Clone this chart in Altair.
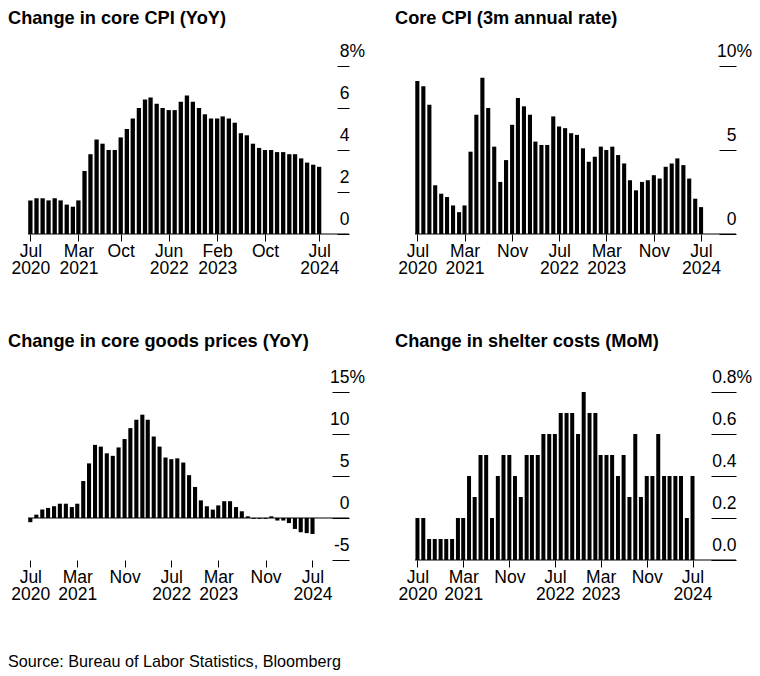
import altair as alt
import pandas as pd

# ---------------- data ----------------
months = [d.strftime("%Y-%m-%d") for d in pd.date_range("2020-07-01", "2024-07-01", freq="MS")]

core_cpi_yoy = [1.6, 1.7, 1.7, 1.6, 1.7, 1.6, 1.4, 1.3, 1.6,
                3.0, 3.8, 4.5, 4.3, 4.0, 4.0, 4.6, 5.0, 5.5,
                6.0, 6.4, 6.5, 6.2, 6.0, 5.9, 5.9, 6.3, 6.6, 6.3, 6.0, 5.7,
                5.5, 5.5, 5.6, 5.5, 5.3, 4.8, 4.7, 4.3, 4.1, 4.0, 4.0, 3.9,
                3.9, 3.8, 3.8, 3.6, 3.4, 3.3, 3.2]

core_cpi_3m = [9.1, 8.8, 7.7, 2.9, 2.4, 2.2, 1.7, 1.3, 1.7,
               4.9, 7.1, 9.3, 7.5, 5.2, 3.1, 4.4, 6.5, 8.1,
               7.6, 7.1, 5.5, 5.3, 5.3, 7.0, 6.4, 6.3, 6.0, 5.9, 5.1, 4.3,
               4.6, 5.2, 5.0, 5.2, 4.7, 4.2, 3.2, 2.6, 3.1, 3.2, 3.5, 3.3,
               4.0, 4.2, 4.5, 4.1, 3.3, 2.1, 1.6]

core_goods_yoy = [-0.5, 0.4, 1.0, 1.2, 1.4, 1.7, 1.7, 1.3, 1.7,
                  4.4, 6.5, 8.7, 8.5, 7.7, 7.4, 8.4, 9.4, 10.7,
                  11.7, 12.3, 11.7, 9.7, 8.5, 7.2, 7.0, 7.1, 6.6, 5.1, 3.7, 2.1,
                  1.4, 1.0, 1.5, 2.0, 2.0, 1.3, 0.8, 0.2, -0.1, -0.1, -0.1, 0.2,
                  -0.3, -0.3, -0.6, -1.3, -1.7, -1.8, -1.9]

shelter_mom = [0.2, 0.2, 0.1, 0.1, 0.1, 0.1, 0.1, 0.2, 0.2,
               0.4, 0.3, 0.5, 0.5, 0.2, 0.4, 0.5, 0.5, 0.4,
               0.3, 0.5, 0.5, 0.5, 0.6, 0.6, 0.6, 0.7, 0.7, 0.7, 0.6, 0.8,
               0.7, 0.7, 0.5, 0.5, 0.5, 0.4, 0.5, 0.3, 0.6, 0.3, 0.4, 0.4,
               0.6, 0.4, 0.4, 0.4, 0.4, 0.2, 0.4]

titles = ["Change in core CPI (YoY)", "Core CPI (3m annual rate)",
          "Change in core goods prices (YoY)", "Change in shelter costs (MoM)"]
source = "Source: Bureau of Labor Statistics, Bloomberg"

y_ticks_1 = [0, 2, 4, 6, 8]
y_labels_1 = ["0", "2", "4", "6", "8%"]
y_ticks_2 = [0, 5, 10]
y_labels_2 = ["0", "5", "10%"]
y_ticks_3 = [-5, 0, 5, 10, 15]
y_labels_3 = ["-5", "0", "5", "10", "15%"]
y_ticks_4 = [0, 0.2, 0.4, 0.6, 0.8]
y_labels_4 = ["0.0", "0.2", "0.4", "0.6", "0.8%"]

x_ticks_1 = ["2020-07-01", "2021-03-01", "2021-10-01", "2022-06-01", "2023-02-01", "2023-10-01", "2024-07-01"]
x_labels_1 = [["Jul", "2020"], ["Mar", "2021"], ["Oct"], ["Jun", "2022"], ["Feb", "2023"], ["Oct"], ["Jul", "2024"]]
x_ticks_b = ["2020-07-01", "2021-03-01", "2021-11-01", "2022-07-01", "2023-03-01", "2023-11-01", "2024-07-01"]
x_labels_b = [["Jul", "2020"], ["Mar", "2021"], ["Nov"], ["Jul", "2022"], ["Mar", "2023"], ["Nov"], ["Jul", "2024"]]

x_domains = [["2020-06-19", "2024-11-29"], ["2020-06-19", "2024-12-28"],
             ["2020-06-19", "2025-01-06"], ["2020-06-18", "2025-02-17"]]

FONT = "Liberation Sans"
LABEL_SIZE = 17.5
PCT_W = 0.889 * LABEL_SIZE


def ms(s):
    return int(pd.Timestamp(s).value // 10**6)


def js(lbl):
    if len(lbl) == 1:
        return "'%s'" % lbl[0]
    return "[" + ", ".join("'%s'" % p for p in lbl) + "]"


def x_expr(ticks, labels):
    parts = ["utcFormat(datum.value, '%%Y-%%m-%%d') == '%s' ? %s" % (t, js(l)) for t, l in zip(ticks, labels)]
    return " : ".join(parts) + " : ''"


def y_expr(ticks, labels):
    parts = ["datum.value == %s ? '%s'" % (repr(t), l) for t, l in zip(ticks, labels)]
    return " : ".join(parts) + " : ''"


def panel(values, title, yticks, ylabels, tick_len, xticks, xlabels, xdom, bar_w, title_offset):
    df = pd.DataFrame({"date": months, "value": values})
    top = yticks[-1]
    x = alt.X("date:T",
              scale=alt.Scale(domain=[ms(xdom[0]), ms(xdom[1])], nice=False, padding=0),
              axis=alt.Axis(values=[ms(t) for t in xticks], labelExpr=x_expr(xticks, xlabels),
                            title=None, domain=False, grid=False, ticks=True, tickSize=7,
                            tickColor="black", tickWidth=1, labelPadding=1, labelLineHeight=17,
                            labelBaseline="top", labelAlign="center", labelFlush=False,
                            labelOverlap=False, labelFont=FONT, labelFontSize=LABEL_SIZE,
                            labelColor="black"))
    y_scale = alt.Scale(domain=[yticks[0], yticks[-1]], nice=False)
    y_axis = alt.Axis(orient="right", values=yticks, labelExpr=y_expr(yticks, ylabels),
                      title=None, domain=False, grid=False, offset=-tick_len,
                      tickSize=tick_len, tickColor="black", tickWidth=1,
                      labelAlign="right", labelBaseline="alphabetic", labelOffset=-10,
                      labelPadding={"condition": {"test": "datum.value == %s" % repr(top),
                                                  "value": PCT_W}, "value": 0},
                      labelFlush=False, labelOverlap=False, labelFont=FONT,
                      labelFontSize=LABEL_SIZE, labelColor="black")
    bars = alt.Chart(df).mark_bar(color="black", width=bar_w).encode(
        x=x, y=alt.Y("value:Q", scale=y_scale, axis=y_axis))
    base = alt.Chart(pd.DataFrame({"value": [0]})).mark_rule(color="black", strokeWidth=1).encode(
        y=alt.Y("value:Q", scale=y_scale, axis=y_axis))
    return alt.layer(bars, base).properties(
        width=321, height=168,
        title=alt.TitleParams(title, anchor="start", frame="group", dx=-20, offset=title_offset,
                              font=FONT, fontSize=18.2, fontWeight="bold", color="black"))


p1 = panel(core_cpi_yoy, titles[0], y_ticks_1, y_labels_1, 12, x_ticks_1, x_labels_1, x_domains[0], 4.3, 14)
p2 = panel(core_cpi_3m, titles[1], y_ticks_2, y_labels_2, 17, x_ticks_b, x_labels_b, x_domains[1], 4.1, 14)
p3 = panel(core_goods_yoy, titles[2], y_ticks_3, y_labels_3, 17, x_ticks_b, x_labels_b, x_domains[2], 4.1, 17)
p4 = panel(shelter_mom, titles[3], y_ticks_4, y_labels_4, 25, x_ticks_b, x_labels_b, x_domains[3], 4.0, 17)

row1 = alt.hconcat(p1, p2, spacing=30)
row2 = alt.hconcat(p3, p4, spacing=30)

chart = alt.vconcat(row1, row2, spacing=54).properties(
    padding=0,
    title=alt.TitleParams(source, orient="bottom", anchor="start", offset=51, font=FONT,
                          fontSize=16.2, fontWeight="normal", color="black")
).configure(background="white").configure_view(strokeWidth=0)

chart.save("out.html", embed_options={"renderer": "svg", "actions": False})
